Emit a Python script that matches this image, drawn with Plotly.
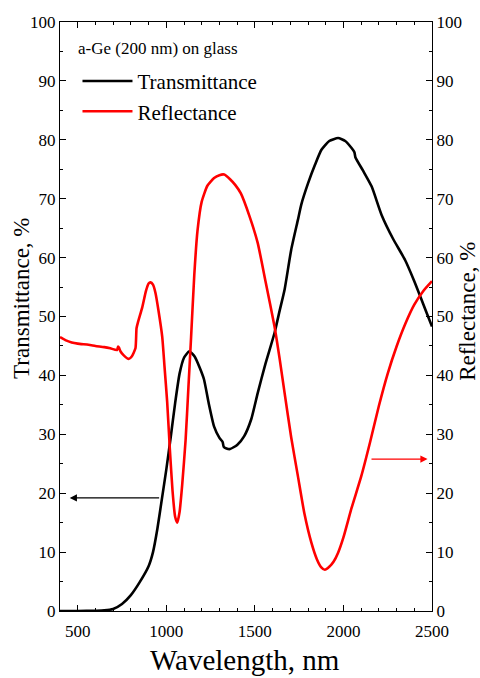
import plotly.graph_objects as go

# Transmittance (black)
wl_T = [400, 500, 600, 650, 700, 750, 800, 850, 900, 925, 950, 975, 1000, 1025, 1050, 1075,
        1100, 1130, 1160, 1190, 1213, 1240, 1270, 1300, 1318, 1324, 1340, 1360, 1400, 1440,
        1480, 1516, 1560, 1611, 1640, 1668, 1705, 1743, 1762, 1800, 1840, 1876, 1920, 1970,
        2010, 2046, 2062, 2068, 2110, 2159, 2216, 2280, 2348, 2400, 2434, 2470, 2500]
T = [0.0, 0.0, 0.05, 0.1, 0.35, 1.2, 2.7, 4.9, 7.6, 10.0, 14.0, 19.0, 24.0, 29.5, 35.3, 40.3,
     43.0, 44.1, 43.2, 41.2, 39.3, 35.2, 31.3, 29.4, 28.7, 27.9, 27.6, 27.5, 28.2, 29.7,
     32.6, 37.0, 42.0, 47.2, 51.0, 54.6, 61.3, 66.4, 69.0, 72.6, 75.8, 78.3, 79.8, 80.3,
     79.8, 78.6, 77.9, 77.0, 74.8, 72.1, 67.2, 63.2, 59.6, 56.0, 53.4, 50.6, 48.3]

# Reflectance (red)
wl_R = [400, 430, 466, 500, 561, 600, 650, 684, 722, 728, 733, 741, 760, 788, 805, 826, 832,
        840, 864, 885, 900, 911, 925, 939, 955, 977, 990, 1005, 1020, 1035, 1050, 1062, 1075,
        1090, 1109, 1125, 1140, 1158, 1176, 1200, 1232, 1270, 1300, 1327, 1360, 1390, 1421,
        1470, 1516, 1560, 1611, 1640, 1668, 1705, 1743, 1780, 1819, 1850, 1875, 1895, 1920,
        1945, 1970, 2000, 2046, 2100, 2150, 2200, 2250, 2300, 2350, 2400, 2450, 2500]
R = [46.5, 46.0, 45.6, 45.4, 45.2, 45.0, 44.8, 44.6, 44.3, 44.9, 44.7, 44.1, 43.4, 42.8, 43.2,
     44.6, 48.0, 49.0, 51.5, 54.3, 55.6, 55.8, 55.4, 54.0, 51.2, 46.6, 41.5, 35.5, 27.5, 20.5,
     16.0, 15.0, 16.8, 21.5, 29.0, 38.0, 46.5, 57.0, 64.5, 69.5, 72.2, 73.5, 74.0, 74.1, 73.3,
     72.3, 70.9, 67.0, 62.5, 56.0, 48.3, 42.8, 37.0, 29.5, 22.9, 16.5, 11.6, 8.8, 7.4, 7.0,
     7.5, 8.4, 9.9, 12.5, 17.5, 22.8, 28.6, 34.8, 40.3, 44.9, 48.8, 52.0, 54.3, 56.0]

x_ticks = [500, 1000, 1500, 2000, 2500]
y_ticks = [0, 10, 20, 30, 40, 50, 60, 70, 80, 90, 100]

FONT = "Liberation Serif, Times New Roman, Times, DejaVu Serif, serif"

fig = go.Figure()
fig.add_trace(go.Scatter(x=wl_T, y=T, mode="lines", name="Transmittance",
                         line=dict(color="black", width=2.6, shape="spline", smoothing=0.5),
                         yaxis="y"))
fig.add_trace(go.Scatter(x=wl_R, y=R, mode="lines", name="Reflectance",
                         line=dict(color="#ff0000", width=2.6, shape="spline", smoothing=0.5),
                         yaxis="y2"))

axis_common = dict(showline=True, linecolor="black", linewidth=1.3, ticks="inside",
                   ticklen=6, tickwidth=1.3, tickcolor="black", showgrid=False,
                   zeroline=False, tickfont=dict(family=FONT, size=17, color="black"))

fig.update_layout(
    width=480, height=678,
    margin=dict(l=60, r=48, t=22, b=67),
    paper_bgcolor="white", plot_bgcolor="white",
    font=dict(family=FONT, color="black"),
    showlegend=True,
    legend=dict(x=0.047, y=0.934, xanchor="left", yanchor="top",
                font=dict(family=FONT, size=21, color="black"),
                bgcolor="rgba(0,0,0,0)", tracegroupgap=0, itemwidth=50),
    xaxis=dict(range=[400, 2500], tickvals=x_ticks, mirror="ticks", ticklabelstandoff=4,
               minor=dict(dtick=100, tick0=0, ticks="inside", ticklen=3, tickcolor="black"),
               **axis_common),
    yaxis=dict(range=[0, 100], tickvals=y_ticks,
               minor=dict(dtick=5, tick0=0, ticks="inside", ticklen=3, tickcolor="black"),
               **axis_common),
    yaxis2=dict(range=[0, 100], tickvals=y_ticks, overlaying="y", side="right",
                minor=dict(dtick=5, tick0=0, ticks="inside", ticklen=3, tickcolor="black"),
                **axis_common),
)

annots = [
    dict(text="a-Ge (200 nm) on glass", xref="paper", yref="paper", x=0.043, y=0.955,
         xanchor="left", yanchor="middle", showarrow=False,
         font=dict(family=FONT, size=17, color="black")),
    dict(text="Wavelength, nm", xref="paper", yref="paper", x=0.497, y=-0.083,
         xanchor="center", yanchor="middle", showarrow=False,
         font=dict(family=FONT, size=29, color="black")),
    dict(text="Transmittance, %", xref="paper", yref="paper", x=-0.102, y=0.53,
         xanchor="center", yanchor="middle", textangle=-90, showarrow=False,
         font=dict(family=FONT, size=23, color="black")),
    dict(text="Reflectance, %", xref="paper", yref="paper", x=1.097, y=0.508,
         xanchor="center", yanchor="middle", textangle=-90, showarrow=False,
         font=dict(family=FONT, size=23, color="black")),
    # arrows
    dict(x=455, y=19.2, xref="x", yref="y", ax=968, ay=19.2, axref="x", ayref="y",
         showarrow=True, arrowhead=2, arrowsize=1.2, arrowwidth=1.2, arrowcolor="black",
         text=""),
    dict(x=2475, y=25.8, xref="x", yref="y2", ax=2150, ay=25.8, axref="x", ayref="y2",
         showarrow=True, arrowhead=2, arrowsize=1.2, arrowwidth=1.2, arrowcolor="#ff0000",
         text=""),
]
fig.update_layout(annotations=annots)

fig.write_html("out.html")
